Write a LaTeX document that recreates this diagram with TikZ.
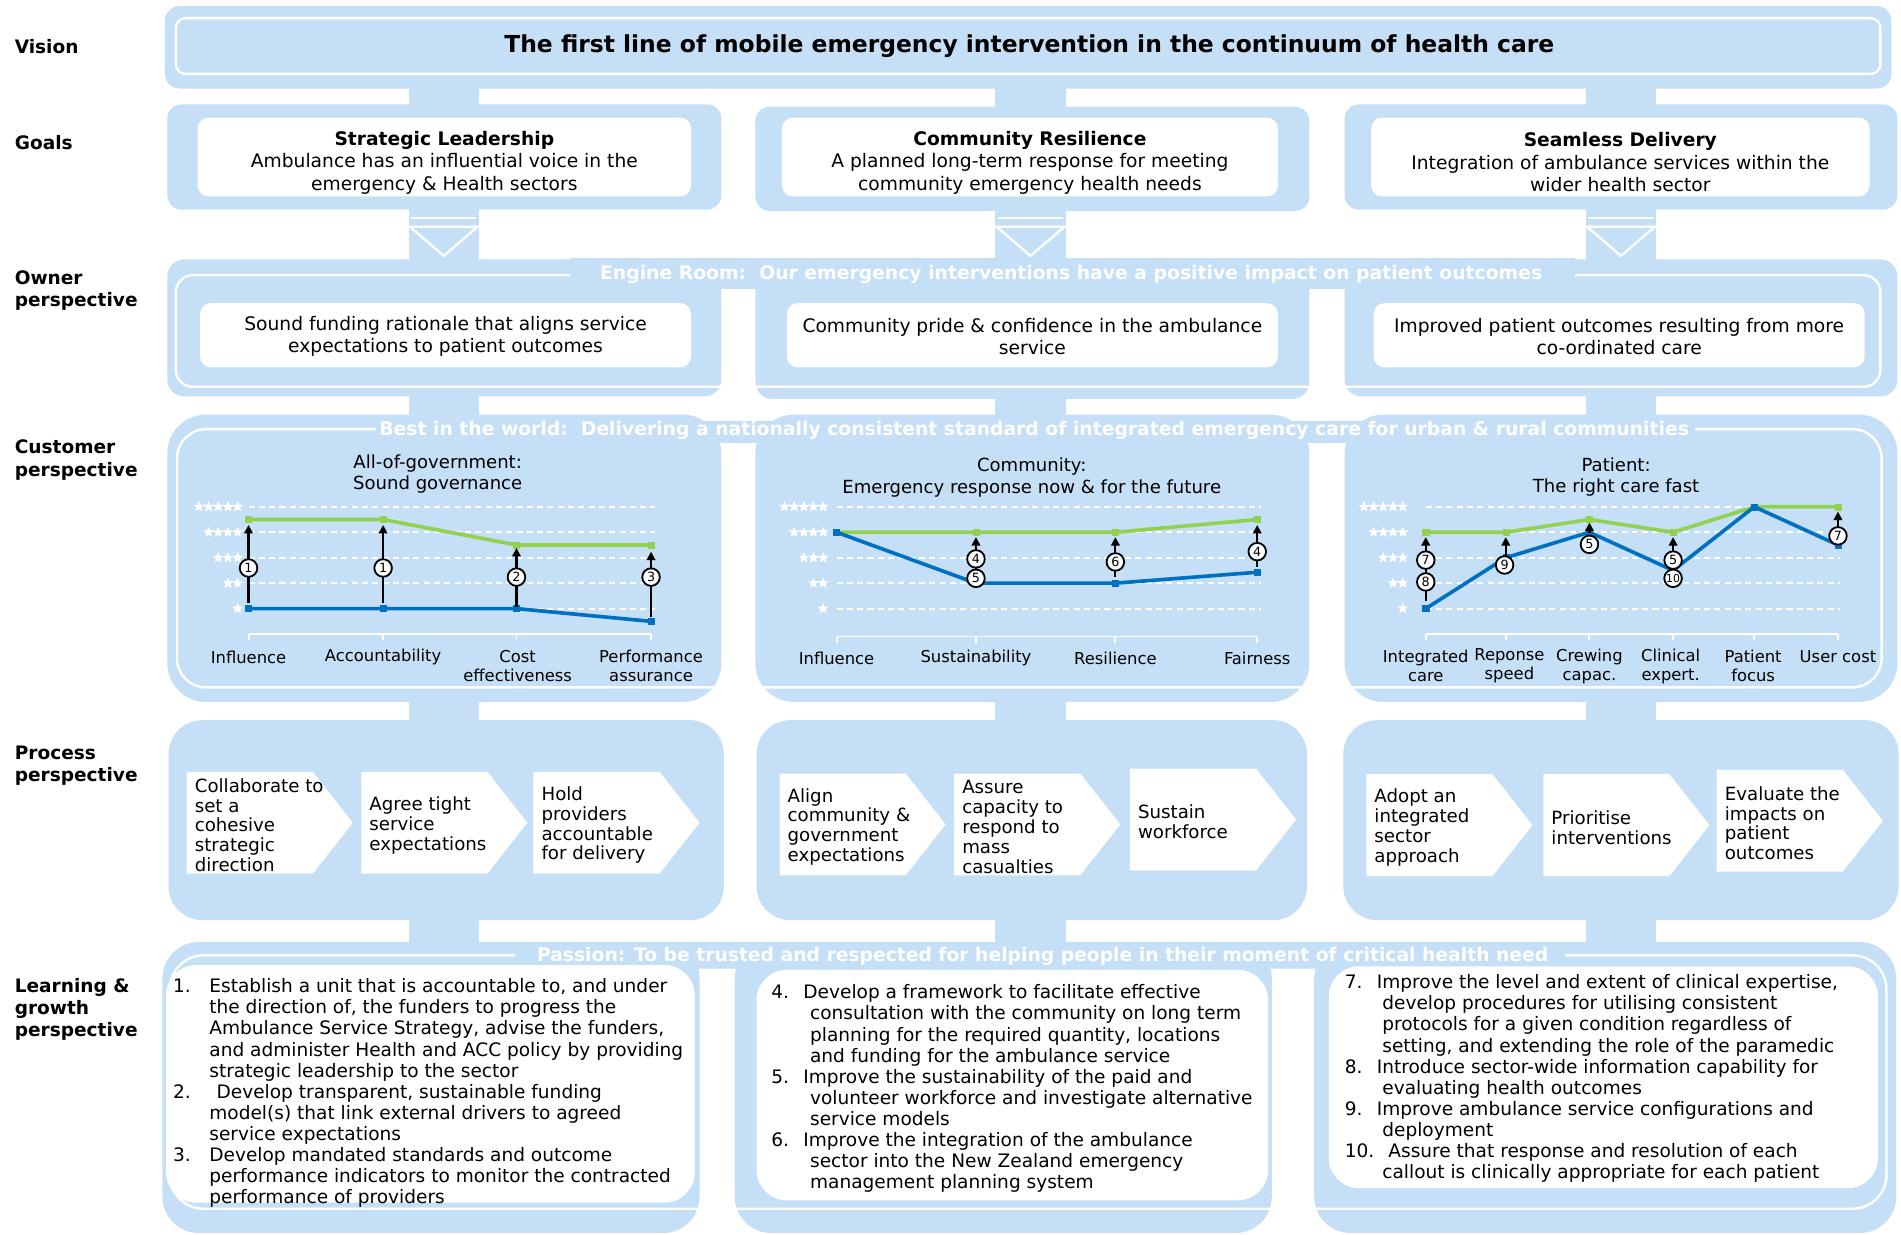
\documentclass[tikz,border=0pt]{standalone}
\usepackage{fontspec}
\setmainfont{DejaVu Sans}
\usepackage{graphicx}
\usetikzlibrary{arrows.meta,plotmarks,shapes.geometric}
\definecolor{bl}{RGB}{197,223,247}
\definecolor{gline}{RGB}{146,208,80}
\definecolor{bline}{RGB}{0,112,192}
\newcommand{\fitw}[2]{\resizebox{#1}{!}{#2}}
\begin{document}
\begin{tikzpicture}[x=1pt,y=-1pt,
  lbl/.style={anchor=west,align=left,inner sep=0pt,font=\bfseries\fontsize{15.3}{18.5}\selectfont},
  gtxt/.style={align=center,inner sep=0pt,font=\fontsize{15.4}{18.5}\selectfont},
  otxt/.style={align=center,inner sep=0pt,font=\fontsize{15.4}{18}\selectfont},
  bandtxt/.style={inner sep=0pt,text=white,font=\bfseries},
  ctitle/.style={align=center,inner sep=0pt,font=\fontsize{14.9}{18}\selectfont},
  cat/.style={align=center,inner sep=0pt,font=\fontsize{13.5}{15.7}\selectfont},
  starn/.style={star,star points=5,star point ratio=2.3,fill=white,draw=none,inner sep=0pt,minimum size=9.5pt},
  gridl/.style={white,line width=1.8pt,dash pattern=on 5pt off 3.5pt},
  axl/.style={white,line width=1.6pt},
  gl/.style={gline,line width=3pt,line join=round},
  bll/.style={bline,line width=3pt,line join=round},
  arr/.style={black,line width=1.8pt,-{Triangle[length=7pt,width=7pt]}},
  cn/.style={circle,draw=black,fill=white,line width=1.5pt,inner sep=0pt,minimum size=14.5pt,font=\fontsize{10.5}{12}\selectfont},
  ptxt/.style={anchor=west,align=left,inner sep=0pt,font=\fontsize{15}{16.4}\selectfont},
  lst/.style={anchor=north west,align=left,inner sep=0pt,font=\fontsize{15.3}{17.4}\selectfont},
  wl/.style={white,line width=2pt}
]
\useasboundingbox (0,0) rectangle (1568,1017.9);
\fill[white] (0,0) rectangle (1568,1017.9);

% ---------- connector bars ----------
\foreach \c in {366,850,1337} {
  \fill[bl] (\c-29,70) rectangle (\c+29,90);
  \fill[bl] (\c-29,170) rectangle (\c+29,216);
  \fill[bl] (\c-29,325) rectangle (\c+29,345);
  \fill[bl] (\c-29,575) rectangle (\c+29,597);
  \fill[bl] (\c-29,755) rectangle (\c+29,780);
  \draw[wl] (\c-27,180) -- (\c+27,180);
  \draw[wl,line join=miter] (\c-28,187) -- (\c+28,187) -- (\c,211) -- cycle;
}

% ---------- Vision ----------
\fill[bl,rounded corners=12] (136,5) rectangle (1560,73);
\draw[wl,rounded corners=8] (145,15) rectangle (1551,61);
\node[bandtxt,text=black] (vt) at (849,38) {\fitw{866pt}{The first line of mobile emergency intervention in the continuum of health care}};

% ---------- Goals ----------
\fill[bl,rounded corners=12] (138,86) rectangle (595,173);
\fill[bl,rounded corners=12] (623,88) rectangle (1080,174);
\fill[bl,rounded corners=12] (1109,86) rectangle (1565,173);
\fill[white,rounded corners=9] (163,97) rectangle (570,162);
\fill[white,rounded corners=9] (645,97) rectangle (1054,162);
\fill[white,rounded corners=9] (1131,97) rectangle (1542,162);
\node[gtxt] (g1) at (366.5,134) {\textbf{Strategic Leadership}\\Ambulance has an influential voice in the\\emergency \& Health sectors};
\node[gtxt] (g2) at (849.5,134) {\textbf{Community Resilience}\\A planned long-term response for meeting\\community emergency health needs};
\node[gtxt] (g3) at (1336.5,134) {\textbf{Seamless Delivery}\\Integration of ambulance services within the\\wider health sector};

% ---------- Owner ----------
\fill[bl,rounded corners=14] (138,214) rectangle (595,327);
\fill[bl,rounded corners=14] (623,214) rectangle (1080,329);
\fill[bl,rounded corners=14] (1109,214) rectangle (1565,327);
\draw[wl,rounded corners=14] (145,227) rectangle (1551,319);
\fill[bl] (470,213) rectangle (1299,238);
\node[bandtxt] (eng) at (883.5,226) {\fitw{777pt}{Engine Room:\ \ Our emergency interventions have a positive impact on patient outcomes}};
\fill[white,rounded corners=9] (165,250) rectangle (570,303);
\fill[white,rounded corners=9] (649,250) rectangle (1054,303);
\fill[white,rounded corners=9] (1133,250) rectangle (1538,303);
\node[otxt] (o1) at (367.5,277.5) {Sound funding rationale that aligns service\\expectations to patient outcomes};
\node[otxt] (o2) at (851.5,277.5) {Community pride \& confidence in the ambulance\\service};
\node[otxt] (o3) at (1335.5,277.5) {Improved patient outcomes resulting from more\\co-ordinated care};

% ---------- Customer ----------
\fill[bl,rounded corners=32] (138,342) rectangle (595,579);
\fill[bl,rounded corners=32] (623,342) rectangle (1080,579);
\fill[bl,rounded corners=32] (1109,342) rectangle (1565,579);
\draw[wl,rounded corners=24] (146,354) rectangle (1552,567);
\fill[bl] (310,347) rectangle (1398,365);
\node[bandtxt] (best) at (853,355) {\fitw{1080pt}{Best in the world:\ \ Delivering a nationally consistent standard of integrated emergency care for urban \& rural communities}};

% chart titles
\node[ctitle] (t1) at (361,391) {All-of-government:\\Sound governance};
\node[ctitle] (t2) at (851,394) {Community:\\Emergency response now \& for the future};
\node[ctitle] (t3) at (1333,393.5) {Patient:\\The right care fast};

% grids and stars
\foreach \L in {1,...,5} {
  \draw[gridl] (205,523-21*\L) -- (540,523-21*\L);
  \draw[gridl] (690,523-21*\L) -- (1040,523-21*\L);
  \draw[gridl] (1176,523-21*\L) -- (1518,523-21*\L);
  \foreach \k in {1,...,\L} {
    \node[starn] (sa\L-\k) at (196-8*\k+8,523-21*\L) {};
    \node[starn] (sb\L-\k) at (679-8*\k+8,523-21*\L) {};
    \node[starn] (sc\L-\k) at (1157-8*\k+8,523-21*\L) {};
  }
}
% axes
\draw[axl] (205,523) -- (537,523);
\foreach \x in {205,316,426,537} \draw[axl] (\x,523) -- (\x,528);
\draw[axl] (690,525) -- (1037,525);
\foreach \x in {690,805,920,1037} \draw[axl] (\x,525) -- (\x,530);
\draw[axl] (1176,523) -- (1516,523);
\foreach \x in {1176,1242,1311,1380,1447,1516} \draw[axl] (\x,523) -- (\x,528);

% data lines
\draw[gl] plot[mark=square*,mark size=2.5pt,mark options={solid,fill=gline,line width=0.4pt}] coordinates {(205,428.5) (316,428.5) (426,449.5) (537,449.5)};
\draw[bll] plot[mark=square*,mark size=2.5pt,mark options={solid,fill=bline,line width=0.4pt}] coordinates {(205,502) (316,502) (426,502) (537,512.5)};
\draw[gl] plot[mark=square*,mark size=2.5pt,mark options={solid,fill=gline,line width=0.4pt}] coordinates {(690,439) (805,439) (920,439) (1037,428.5)};
\draw[bll] plot[mark=square*,mark size=2.5pt,mark options={solid,fill=bline,line width=0.4pt}] coordinates {(690,439) (805,481) (920,481) (1037,472)};
\draw[gl] plot[mark=square*,mark size=2.5pt,mark options={solid,fill=gline,line width=0.4pt}] coordinates {(1176,439) (1242,439) (1311,428.5) (1380,439) (1447,418) (1516,418)};
\draw[bll] plot[mark=square*,mark size=2.5pt,mark options={solid,fill=bline,line width=0.4pt}] coordinates {(1176,502) (1242,460) (1311,439) (1380,470.5) (1447,418) (1516,449.5)};

% arrows and circled numbers - left chart
\coordinate (aL1s) at (205,497); \coordinate (aL1e) at (205,433);
\coordinate (aL2s) at (316,497); \coordinate (aL2e) at (316,433);
\coordinate (aL3s) at (426,501); \coordinate (aL3e) at (426,452);
\coordinate (aL4s) at (537,509); \coordinate (aL4e) at (537,455);
\foreach \i in {1,2,3,4} \draw[arr] (aL\i s) -- (aL\i e);
\node[cn] (cL1) at (205,468.5) {1};
\node[cn] (cL2) at (316,468.5) {1};
\node[cn] (cL3) at (426,476) {2};
\node[cn] (cL4) at (537,476) {3};
% middle chart
\coordinate (aM1s) at (805,477); \coordinate (aM1e) at (805,443);
\coordinate (aM2s) at (920,476); \coordinate (aM2e) at (920,443);
\coordinate (aM3s) at (1037,467.5); \coordinate (aM3e) at (1037,433);
\foreach \i in {1,2,3} \draw[arr] (aM\i s) -- (aM\i e);
\node[cn] (cM1) at (805,477) {5};
\node[cn] (cM2) at (805,461) {4};
\node[cn] (cM3) at (920,463.5) {6};
\node[cn] (cM4) at (1037,455) {4};
% right chart
\coordinate (aR1s) at (1176,496); \coordinate (aR1e) at (1176,443);
\coordinate (aR2s) at (1242,466); \coordinate (aR2e) at (1242,443);
\coordinate (aR3s) at (1311,440); \coordinate (aR3e) at (1311,431);
\coordinate (aR4s) at (1380,477); \coordinate (aR4e) at (1380,443);
\coordinate (aR5s) at (1516,442); \coordinate (aR5e) at (1516,422);
\foreach \i in {1,2,3,4,5} \draw[arr] (aR\i s) -- (aR\i e);
\node[cn] (cR1) at (1176,480) {8};
\node[cn] (cR2) at (1176,462) {7};
\node[cn] (cR3) at (1241,466) {9};
\node[cn] (cR4) at (1311,449) {5};
\node[cn] (cR5) at (1380,462) {5};
\node[cn,font=\fontsize{9}{10}\selectfont] (cR6) at (1380,477) {10};
\node[cn] (cR7) at (1516,442) {7};

% category labels
\node[cat] (kL1) at (205,542) {Influence};
\node[cat] (kL2) at (316,542) {Accountability};
\node[cat] (kL3) at (427,549.5) {Cost\\effectiveness};
\node[cat] (kL4) at (537,549.5) {Performance\\assurance};
\node[cat] (kM1) at (690,543) {Influence};
\node[cat] (kM2) at (805,543) {Sustainability};
\node[cat] (kM3) at (920,543) {Resilience};
\node[cat] (kM4) at (1037,543) {Fairness};
\node[cat] (kR1) at (1176,549.5) {Integrated\\care};
\node[cat] (kR2) at (1245,549.5) {Reponse\\speed};
\node[cat] (kR3) at (1311,549.5) {Crewing\\capac.};
\node[cat] (kR4) at (1378,549.5) {Clinical\\expert.};
\node[cat] (kR5) at (1446,549.5) {Patient\\focus};
\node[cat] (kR6) at (1516,542) {User cost};

% ---------- Process ----------
\fill[bl,rounded corners=28] (139,594) rectangle (597,759);
\fill[bl,rounded corners=28] (624,594) rectangle (1078,759);
\fill[bl,rounded corners=28] (1108,594) rectangle (1566,759);
\foreach \x/\y in {154/636.6,298/636.6,440/636.6,643/638,787/638,932/634,1127/638.6,1273/638.6,1416/635}
  \fill[white] (\x,\y) -- (\x+104,\y) -- (\x+137,\y+42) -- (\x+104,\y+84) -- (\x,\y+84) -- cycle;
\node[ptxt] (p1) at (160.5,680.6) {Collaborate to\\set a\\cohesive\\strategic\\direction};
\node[ptxt] (p2) at (304.5,680.6) {Agree tight\\service\\expectations};
\node[ptxt] (p3) at (446.5,680.6) {Hold\\providers\\accountable\\for delivery};
\node[ptxt] (p4) at (649.5,682) {Align\\community \&\\government\\expectations};
\node[ptxt] (p5) at (793.5,682) {Assure\\capacity to\\respond to\\mass\\casualties};
\node[ptxt] (p6) at (938.5,678) {Sustain\\workforce};
\node[ptxt] (p7) at (1133.5,682.6) {Adopt an\\integrated\\sector\\approach};
\node[ptxt] (p8) at (1279.5,682.6) {Prioritise\\interventions};
\node[ptxt] (p9) at (1422.5,679) {Evaluate the\\impacts on\\patient\\outcomes};

% ---------- Learning & growth ----------
\fill[bl,rounded corners=30] (134,777) rectangle (577,1017);
\fill[bl,rounded corners=30] (606,777) rectangle (1049,1017);
\fill[bl,rounded corners=30] (1084,777) rectangle (1564,1017);
\draw[wl,rounded corners=28] (140,788) rectangle (1556,997);
\fill[bl,rounded corners=4] (425,777) rectangle (1291,799);
\node[bandtxt] (pas) at (860,789) {\fitw{834pt}{Passion: To be trusted and respected for helping people in their moment of critical health need}};
\fill[white,rounded corners=25] (137,796) rectangle (573,992);
\fill[white,rounded corners=25] (624,800) rectangle (1046,990);
\fill[white,rounded corners=25] (1096,797) rectangle (1549,980);

\node[lst] (ll) at (142.5,806.5) {\strut\makebox[30pt][l]{1.}Establish a unit that is accountable to, and under\\
\hspace*{30pt}the direction of, the funders to progress the\\
\hspace*{30pt}Ambulance Service Strategy, advise the funders,\\
\hspace*{30pt}and administer Health and ACC policy by providing\\
\hspace*{30pt}strategic leadership to the sector\\
\makebox[30pt][l]{2.}\hspace*{6pt}Develop transparent, sustainable funding\\
\hspace*{30pt}model(s) that link external drivers to agreed\\
\hspace*{30pt}service expectations\\
\makebox[30pt][l]{3.}Develop mandated standards and outcome\\
\hspace*{30pt}performance indicators to monitor the contracted\\
\hspace*{30pt}performance of providers};
\node[lst] (lm) at (636,811.5) {\strut\makebox[26.5pt][l]{4.}Develop a framework to facilitate effective\\
\hspace*{32pt}consultation with the community on long term\\
\hspace*{32pt}planning for the required quantity, locations\\
\hspace*{32pt}and funding for the ambulance service\\
\makebox[26.5pt][l]{5.}Improve the sustainability of the paid and\\
\hspace*{32pt}volunteer workforce and investigate alternative\\
\hspace*{32pt}service models\\
\makebox[26.5pt][l]{6.}Improve the integration of the ambulance\\
\hspace*{32pt}sector into the New Zealand emergency\\
\hspace*{32pt}management planning system};
\node[lst] (lr) at (1109,803.2) {\strut\makebox[26.5pt][l]{7.}Improve the level and extent of clinical expertise,\\
\hspace*{31pt}develop procedures for utilising consistent\\
\hspace*{31pt}protocols for a given condition regardless of\\
\hspace*{31pt}setting, and extending the role of the paramedic\\
\makebox[26.5pt][l]{8.}Introduce sector-wide information capability for\\
\hspace*{31pt}evaluating health outcomes\\
\makebox[26.5pt][l]{9.}Improve ambulance service configurations and\\
\hspace*{31pt}deployment\\
\makebox[36pt][l]{10.}Assure that response and resolution of each\\
\hspace*{31pt}callout is clinically appropriate for each patient};

% ---------- row labels ----------
\node[lbl] (rv) at (12,38.5) {Vision};
\node[lbl] (rg) at (12,117.5) {Goals};
\node[lbl] (ro) at (12,239.5) {Owner\\perspective};
\node[lbl] (rc) at (12,379.5) {Customer\\perspective};
\node[lbl] (rp) at (12,631.5) {Process\\perspective};
\node[lbl] (rl) at (12,832.5) {Learning \&\\growth\\perspective};
\end{tikzpicture}
\end{document}
